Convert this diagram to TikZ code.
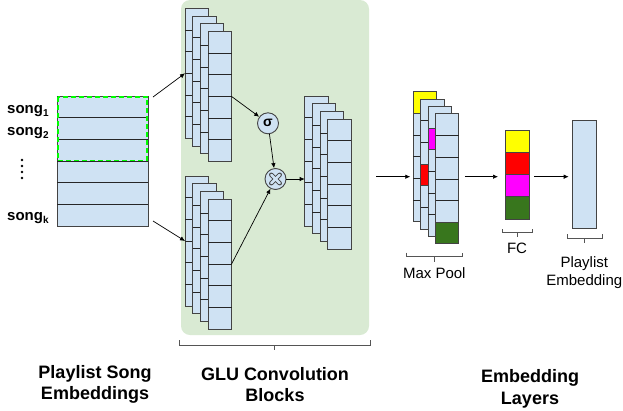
\documentclass[tikz,border=0pt]{standalone}
\usepackage{fontspec}
\setmainfont{Liberation Sans}
\usetikzlibrary{calc,arrows.meta}

\definecolor{cellblue}{HTML}{CFE2F3}
\definecolor{edge}{HTML}{434343}
\definecolor{panel}{HTML}{D9EAD3}
\definecolor{hlyellow}{HTML}{FFFF00}
\definecolor{hlred}{HTML}{FF0000}
\definecolor{hlmagenta}{HTML}{FF00FF}
\definecolor{hlgreen}{HTML}{38761D}
\definecolor{bracegray}{HTML}{555555}
\definecolor{selgreen}{HTML}{00FF00}

\tikzset{
  layer/.style={draw=edge, fill=cellblue, line width=0.9pt, minimum width=23.4pt,
    minimum height=130pt, inner sep=0pt, outer sep=0pt, anchor=north west},
  rowline/.style={draw=black!85, line width=0.8pt},
  arr/.style={-{Latex[length=5pt,width=4.5pt]}, line width=0.7pt, black},
  op/.style={circle, draw=edge, fill=cellblue, line width=0.9pt, minimum size=21pt, inner sep=0pt},
  bracket/.style={draw=bracegray, line width=0.8pt},
  title/.style={font=\fontsize{18}{21.7}\selectfont\bfseries, align=center},
  small/.style={font=\fontsize{15}{18.4}\selectfont, align=center},
  songlbl/.style={font=\fontsize{15}{16}\selectfont\bfseries, anchor=base west, inner sep=0pt},
  fccell/.style={draw=edge, line width=0.9pt, minimum width=24pt, minimum height=22.25pt,
    inner sep=0pt, outer sep=0pt, anchor=north west},
}

% four overlapping feature-map sheets, each split into six cells
\newcommand{\fmapstack}[3]{% name, left, top of the back sheet
  \foreach \k in {0,...,3}{
    \node[layer] (#1-\k) at ({#2+7.7*\k},{#3+7.7*\k}) {};
    \foreach \r in {1,...,5}
      \draw[rowline] ($(#1-\k.north west)+(0,{\r*21.67})$) -- ++(23.4,0);
  }
}
\newcommand{\sidx}[1]{\raisebox{-3.5pt}{\fontsize{10}{10}\selectfont #1}}

\begin{document}
\begin{tikzpicture}[x=1pt,y=-1pt]
\useasboundingbox (0,0) rectangle (623,410);

% GLU panel
\fill[panel, rounded corners=9pt] (181,0) rectangle (369,335);

% song embedding matrix
\node[layer, minimum width=91pt, minimum height=130pt] (song) at (57,96) {};
\foreach \r in {1,...,5}
  \draw[rowline] ($(song.north west)+(0,{\r*21.67})$) -- ++(91,0);
\draw[selgreen, line width=1.6pt, dash pattern=on 5pt off 3pt] (57.8,96.8) rectangle (147.2,160.3);

\node[songlbl] (s1) at (7,113) {song\sidx{1}};
\node[songlbl] (s2) at (7,135) {song\sidx{2}};
\node[songlbl] (sk) at (7,220) {song\sidx{k}};
\foreach \i in {0,...,3} \fill (22,{160+6*\i}) circle (1.3pt);

% convolution stacks
\fmapstack{t}{185}{8.3}
\fmapstack{b}{185}{176}
\fmapstack{o}{304.7}{96}

% gate operators
\node[op] (sig) at (268,123.3) {\fontsize{14}{14}\selectfont\bfseries σ};
\node[op] (mul) at (275.5,179) {};
\foreach \a in {45,135}
  \draw[edge, line width=4.4pt, line cap=round] ($(mul)+(\a:6)$) -- ($(mul)+(\a+180:6)$);
\foreach \a in {45,135}
  \draw[cellblue, line width=2.6pt, line cap=round] ($(mul)+(\a:6)$) -- ($(mul)+(\a+180:6)$);

% max pool stack with the selected cells
\foreach \k/\c/\col in {0/0/hlyellow,1/3/hlred,2/1/hlmagenta,3/5/hlgreen}{
  \node[layer] (p-\k) at ({413.3+7.4*\k},{91.7+7.4*\k}) {};
  \foreach \r in {1,...,5}
    \draw[rowline] ($(p-\k.north west)+(0,{\r*21.67})$) -- ++(23.4,0);
  \draw[fill=\col, draw=edge, line width=0.9pt] ($(p-\k.north west)+(0,{\c*21.67})$) rectangle ++(23.4,21.67);
}

% fully connected layer
\node[fccell, fill=hlyellow]  (fc-1) at (505,130) {};
\node[fccell, fill=hlred]     (fc-2) at (505,152.25) {};
\node[fccell, fill=hlmagenta] (fc-3) at (505,174.5) {};
\node[fccell, fill=hlgreen]   (fc-4) at (505,196.75) {};

% playlist embedding
\node[layer, minimum width=24pt, minimum height=108.3pt] (emb) at (572.7,120) {};

% connectors
\coordinate (songA) at (153,97);
\coordinate (songB) at (153,221);
\coordinate (lv) at (0,176.7);
\coordinate (poolIn) at (376,176.7);
\draw[arr] (songA) -- (t-0.west);
\draw[arr] (songB) -- (b-0.west);
\draw[arr] ($(t-3.north east)+(0,65)$) -- (sig);
\draw[arr] (sig) -- (mul);
\draw[arr] ($(b-3.north east)+(0,65)$) -- (mul);
\draw[arr] (mul) -- (mul -| o-0.west);
\draw[arr, shorten >=3pt] (poolIn) -- (poolIn -| p-0.west);
\draw[arr, shorten <=6pt, shorten >=7pt] (p-3.east |- lv) -- (fc-2.west |- lv);
\draw[arr, shorten <=5pt, shorten >=4pt] (fc-2.east |- lv) -- (emb.west |- lv);

% brackets
\draw[bracket] (179,340) -- (179,345) -- (370,345) -- (370,340) (274.6,345) -- (274.6,350);
\draw[bracket] (406,252.7) -- (406,256.7) -- (462.7,256.7) -- (462.7,252.7) (434.3,256.7) -- (434.3,261.7);
\draw[bracket] (502.3,229) -- (502.3,232.7) -- (532.7,232.7) -- (532.7,229) (517,232.7) -- (517,236.7);
\draw[bracket] (567.3,234) -- (567.3,238.3) -- (602.3,238.3) -- (602.3,234) (584.3,238.3) -- (584.3,242.7);

% labels
\node[small] (l-pool) at (434.3,273.3) {Max Pool};
\node[small] (l-fc) at (517,248.3) {FC};
\node[small] (l-emb) at (584.3,272.5) {Playlist\\Embedding};

\node[title] (t-song) at (95,384.5) {Playlist Song\\Embeddings};
\node[title] (t-glu) at (275,384.5) {GLU Convolution\\Blocks};
\node[title] (t-emb) at (530,389) {Embedding\\Layers};
\end{tikzpicture}
\end{document}
